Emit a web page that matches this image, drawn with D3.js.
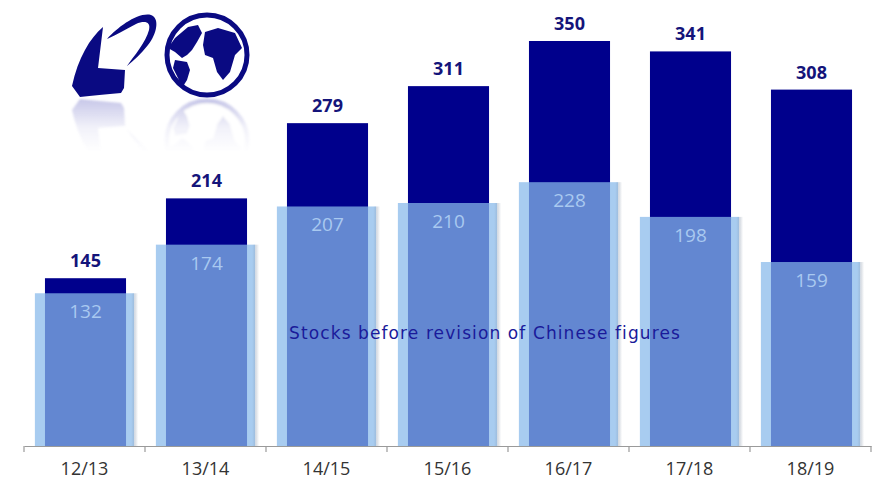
<!DOCTYPE html>
<html>
<head>
<meta charset="utf-8">
<script src="https://cdn.jsdelivr.net/npm/d3@7"></script>
<style>
  html, body { margin: 0; padding: 0; background: #fff; }
  svg { display: block; font-family: "Open Sans", "DejaVu Sans", sans-serif; }
</style>
</head>
<body>
<svg id="chart" width="877" height="481"></svg>
<script>
// Seasons and ending-stock values (million tonnes)
const seasons = ["12/13", "13/14", "14/15", "15/16", "16/17", "17/18", "18/19"];
const revisedStocks = [145, 214, 279, 311, 350, 341, 308];
const previousStocks = [132, 174, 207, 210, 228, 198, 159];
const noteText = "Stocks before revision of Chinese figures";

const W = 877, H = 481;
const margin = { left: 24, right: 6, top: 41, bottom: 35 };
const baseY = H - margin.bottom;

const svg = d3.select("#chart");
const defs = svg.append("defs");

const x = d3.scaleBand().domain(seasons).range([margin.left, W - margin.right]).padding(0);
const y = d3.scaleLinear().domain([0, 350]).range([baseY, margin.top]);

const step = x.step();
const darkW = step * 0.67;
const lightW = step * 0.82;
const center = d => x(d) + step / 2;

// soft shadow on the right edge of the pale bars
const sh = defs.append("linearGradient").attr("id", "edgeShadow").attr("x1", 0).attr("x2", 1);
sh.append("stop").attr("offset", "0%").attr("stop-color", "#7a8aa0").attr("stop-opacity", 0.0);
sh.append("stop").attr("offset", "55%").attr("stop-color", "#7a8aa0").attr("stop-opacity", 0.3);
sh.append("stop").attr("offset", "100%").attr("stop-color", "#7a8aa0").attr("stop-opacity", 0.0);

const data = seasons.map((s, i) => ({ s, hi: revisedStocks[i], lo: previousStocks[i] }));

const bars = svg.append("g");

// revised stocks (dark bars, full height)
bars.selectAll("rect.dark").data(data).join("rect")
  .attr("class", "dark")
  .attr("x", d => center(d.s) - darkW / 2 + 1)
  .attr("width", darkW)
  .attr("y", d => y(d.hi))
  .attr("height", d => baseY - y(d.hi))
  .attr("fill", "#00008c");

// previous stocks (wide translucent bars in front)
bars.selectAll("rect.light").data(data).join("rect")
  .attr("class", "light")
  .attr("x", d => center(d.s) - lightW / 2)
  .attr("width", lightW)
  .attr("y", d => y(d.lo))
  .attr("height", d => baseY - y(d.lo))
  .attr("fill", "#88b9eb")
  .attr("fill-opacity", 0.73);

bars.selectAll("rect.shadow").data(data).join("rect")
  .attr("class", "shadow")
  .attr("x", d => center(d.s) + lightW / 2 - 3)
  .attr("width", 7)
  .attr("y", d => y(d.lo))
  .attr("height", d => baseY - y(d.lo))
  .attr("fill", "url(#edgeShadow)");

// value labels
svg.append("g").selectAll("text").data(data).join("text")
  .attr("x", d => center(d.s) + 1)
  .attr("y", d => y(d.hi) - 11)
  .attr("text-anchor", "middle")
  .attr("font-size", 18)
  .attr("font-weight", "bold")
  .attr("fill", "#14147a")
  .text(d => d.hi);

svg.append("g").selectAll("text").data(data).join("text")
  .attr("x", d => center(d.s) + 1)
  .attr("y", d => y(d.lo) + 25)
  .attr("text-anchor", "middle")
  .attr("font-size", 19)
  .attr("fill", "#a9c9f0")
  .text(d => d.lo);

// x axis
const axis = svg.append("g").attr("transform", `translate(0,${baseY})`)
  .call(d3.axisBottom(x).tickSize(0).tickPadding(16));
axis.select(".domain").attr("stroke", "#9a9a9a").attr("stroke-width", 1.2);
axis.selectAll(".tick text").attr("font-size", 18).attr("fill", "#333")
  .attr("font-family", "\"Open Sans\", \"DejaVu Sans\", sans-serif");
const bounds = seasons.map(s => x(s)).concat([x(seasons[seasons.length - 1]) + step]);
axis.selectAll("line.sep").data(bounds).join("line")
  .attr("class", "sep")
  .attr("x1", d => d).attr("x2", d => d)
  .attr("y1", 0).attr("y2", 6)
  .attr("stroke", "#9a9a9a").attr("stroke-width", 1.2);

// note inside the pale bars
svg.append("text")
  .attr("x", x(seasons[3]) + step * 0.81)
  .attr("y", 339)
  .attr("text-anchor", "middle")
  .attr("font-family", "\"DejaVu Sans\", sans-serif")
  .attr("font-size", 17)
  .attr("letter-spacing", 1.1)
  .attr("fill", "#1a1a9a")
  .text(noteText);

// ---- logo: arrow + globe, with a faded reflection ----
function drawLogo(g, ink) {
  // arrow head pointing down-left
  g.append("path").attr("fill", ink)
    .attr("d", "M72,86 L80,97 C92,96 106,94 121,93 L124,88 L125,70 L98,68 L103,27 C90,38 78,58 72,86 Z");
  // hooked shaft
  g.append("path").attr("fill", ink)
    .attr("d", "M107,39 C118,27 138,12 151,15 C160,18 157,34 148,45 C141,54 134,60 127,66 C134,56 146,42 149,30 C151,22 145,20 136,24 C126,29 116,35 107,39 Z");
  // globe ring
  g.append("circle").attr("cx", 207).attr("cy", 55).attr("r", 40)
    .attr("fill", "#fff").attr("stroke", ink).attr("stroke-width", 5);
  // continents
  g.append("path").attr("fill", ink)
    .attr("d", "M168,48 L175,38 L188,27 L198,25 L202,33 L197,42 L192,50 L187,55 L182,58 L175,52 Z");
  g.append("path").attr("fill", ink)
    .attr("d", "M175,60 L187,62 L190,70 L187,80 L182,88 L178,78 L173,68 Z");
  g.append("path").attr("fill", ink)
    .attr("d", "M205,32 L218,28 L235,33 L242,48 L235,55 L230,72 L223,80 L217,72 L213,58 L205,55 L203,45 Z");
}

const logo = svg.append("g");
drawLogo(logo, "#0a0a82");

// reflection below the logo
const fade = defs.append("linearGradient").attr("id", "fade").attr("x1", 0).attr("x2", 0).attr("y1", 0).attr("y2", 1);
fade.append("stop").attr("offset", "0%").attr("stop-color", "#fff").attr("stop-opacity", 0.3);
fade.append("stop").attr("offset", "55%").attr("stop-color", "#fff").attr("stop-opacity", 0.07);
fade.append("stop").attr("offset", "100%").attr("stop-color", "#fff").attr("stop-opacity", 0);
defs.append("mask").attr("id", "fadeMask").attr("maskUnits", "userSpaceOnUse")
  .append("rect").attr("x", 60).attr("y", 97).attr("width", 200).attr("height", 55).attr("fill", "url(#fade)");
defs.append("filter").attr("id", "soft").append("feGaussianBlur").attr("stdDeviation", 0.8);

const refl = svg.append("g").attr("mask", "url(#fadeMask)").attr("filter", "url(#soft)")
  .append("g").attr("transform", "translate(0,196) scale(1,-1)");
drawLogo(refl, "#3a3ab0");
</script>
</body>
</html>
